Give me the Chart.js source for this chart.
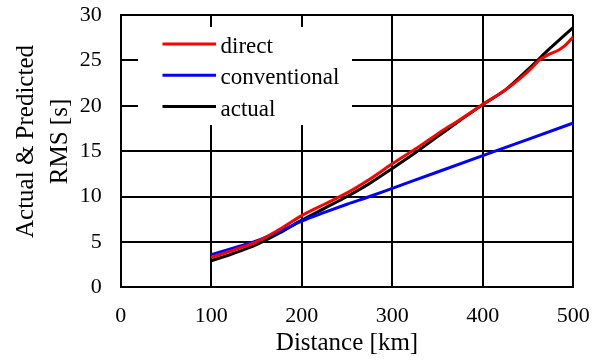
<!DOCTYPE html>
<html>
<head>
<meta charset="utf-8">
<script src="https://cdn.jsdelivr.net/npm/chart.js@4/dist/chart.umd.min.js"></script>
<style>
  html, body { margin: 0; padding: 0; background: #fff; }
  canvas { display: block; }
</style>
</head>
<body>
<canvas id="c" width="608" height="362"></canvas>
<script>
// Axis ticks
const xTicks = [0, 100, 200, 300, 400, 500];
const yTicks = [0, 5, 10, 15, 20, 25, 30];

// Series: distance [km] and RMS [s]
const directDist = [100, 125, 150, 175, 200, 225, 250, 275, 300, 325, 350, 375, 400, 425, 440, 455, 462, 472, 484, 491, 500];
const directRms  = [3.3, 4.1, 5.0, 6.35, 7.9, 9.15, 10.4, 11.9, 13.6, 15.2, 16.9, 18.5, 20.15, 21.75, 22.9, 24.25, 25.0, 25.6, 26.15, 26.65, 27.6];

const conventionalDist = [100, 125, 150, 175, 200, 225, 250, 275, 300, 350, 400, 450, 500];
const conventionalRms  = [3.6, 4.35, 5.1, 6.15, 7.3, 8.25, 9.15, 10.0, 10.9, 12.7, 14.5, 16.3, 18.1];

const actualDist = [100, 125, 150, 175, 200, 225, 250, 275, 300, 325, 350, 375, 400, 425, 450, 475, 500];
const actualRms  = [2.93, 3.75, 4.7, 5.95, 7.4, 8.7, 10.0, 11.45, 13.1, 14.8, 16.6, 18.4, 20.15, 21.75, 24.0, 26.4, 28.65];

const seriesLabels = ['direct', 'conventional', 'actual'];
const seriesColors = ['#ff0000', '#0000ff', '#000000'];

const SERIF = "'Liberation Serif', 'Times New Roman', serif";

const toPoints = (xs, ys) => xs.map((x, i) => ({ x: x, y: ys[i] }));

// Legend drawn inside the plot on a white panel
const insetLegend = {
  id: 'insetLegend',
  beforeDatasetsDraw(chart) {
    const ctx = chart.ctx;
    ctx.save();
    ctx.fillStyle = '#fff';
    ctx.fillRect(138, 27, 214, 98);
    ctx.font = '23px ' + SERIF;
    ctx.textAlign = 'left';
    ctx.textBaseline = 'alphabetic';
    chart.data.datasets.forEach((ds, i) => {
      const base = 53 + i * 31.3;
      const ly = base - 9;
      ctx.strokeStyle = ds.borderColor;
      ctx.lineWidth = 3;
      ctx.beginPath();
      ctx.moveTo(162.5, ly);
      ctx.lineTo(216, ly);
      ctx.stroke();
      ctx.fillStyle = '#000';
      ctx.fillText(ds.label, 220.5, base);
    });
    ctx.restore();
  }
};

// Two-line vertical title for the value axis
const yTitle = {
  id: 'yTitle',
  afterDraw(chart) {
    const ctx = chart.ctx;
    ctx.save();
    ctx.fillStyle = '#000';
    ctx.font = '25px ' + SERIF;
    ctx.textAlign = 'center';
    ctx.textBaseline = 'alphabetic';
    ctx.translate(0, 141.5);
    ctx.rotate(-Math.PI / 2);
    ctx.fillText('Actual & Predicted', 0, 33.3);
    ctx.fillText('RMS [s]', 0, 67);
    ctx.restore();
  }
};

new Chart(document.getElementById('c'), {
  type: 'line',
  data: {
    datasets: [
      { label: seriesLabels[0], data: toPoints(directDist, directRms), borderColor: seriesColors[0] },
      { label: seriesLabels[1], data: toPoints(conventionalDist, conventionalRms), borderColor: seriesColors[1] },
      { label: seriesLabels[2], data: toPoints(actualDist, actualRms), borderColor: seriesColors[2] }
    ]
  },
  options: {
    responsive: false,
    animation: false,
    layout: { padding: { top: 15, right: 34.7, left: 0, bottom: 0 } },
    plugins: { legend: { display: false }, tooltip: { enabled: false } },
    elements: {
      point: { radius: 0 },
      line: { borderWidth: 3, fill: false, cubicInterpolationMode: 'monotone' }
    },
    scales: {
      x: {
        type: 'linear',
        min: xTicks[0],
        max: xTicks[xTicks.length - 1],
        afterBuildTicks: s => { s.ticks = xTicks.map(v => ({ value: v })); },
        ticks: { padding: 0, color: '#000', font: { family: SERIF, size: 22 } },
        grid: { color: '#000', lineWidth: 2, drawTicks: true, tickLength: 16, tickColor: 'rgba(0,0,0,0)' },
        border: { color: '#000', width: 2 },
        title: { display: true, text: 'Distance [km]', color: '#000', font: { family: SERIF, size: 25 }, padding: { top: 0, bottom: 4 } },
        afterFit: s => { s.height = 74.7; }
      },
      y: {
        type: 'linear',
        min: yTicks[0],
        max: yTicks[yTicks.length - 1],
        afterBuildTicks: s => { s.ticks = yTicks.map(v => ({ value: v })); },
        ticks: { padding: 0, color: '#000', font: { family: SERIF, size: 22 } },
        grid: { color: '#000', lineWidth: 2, drawTicks: true, tickLength: 19, tickColor: 'rgba(0,0,0,0)' },
        border: { color: '#000', width: 2 },
        afterFit: s => { s.width = 120.7; }
      }
    }
  },
  plugins: [insetLegend, yTitle]
});
</script>
</body>
</html>
